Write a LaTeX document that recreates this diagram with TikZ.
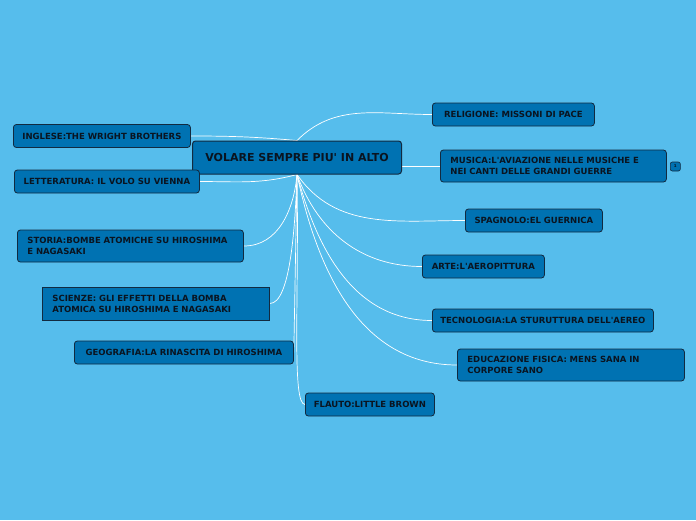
\documentclass[tikz,border=0pt]{standalone}
\usepackage{fontspec}
\setmainfont{DejaVu Sans}
\usetikzlibrary{backgrounds}
\definecolor{skyBlue}{RGB}{86, 189, 236}
\definecolor{topicBlue}{RGB}{0, 114, 178}
\definecolor{topicEdge}{RGB}{18, 42, 64}
\definecolor{topicText}{RGB}{10, 20, 32}
\newcommand{\apo}{\textquotesingle}

\tikzset{
  topic/.style={draw=topicEdge, fill=topicBlue, text=topicText, rounded corners=3pt,
    line width=0.8pt, font=\bfseries\fontsize{8.5}{11}\selectfont,
    minimum height=23pt, inner xsep=6pt, inner ysep=3pt, anchor=west},
  central/.style={topic, font=\bfseries\fontsize{11}{13}\selectfont,
    minimum height=33pt, line width=1pt},
  twoline/.style={topic, align=left, inner xsep=10pt, minimum height=32pt},
  link/.style={draw=white, line width=0.7pt},
}

\begin{document}
\begin{tikzpicture}[x=1pt, y=-1pt]
        \useasboundingbox (0,0) rectangle (696,520);
        % central topic
        \node[central, minimum width=209pt] (root) at (192,157.5) {VOLARE SEMPRE PIU\apo{} IN ALTO};
        % left side
        \node[topic, minimum width=177pt] (inglese) at (13,136) {INGLESE:THE WRIGHT BROTHERS};
        \node[topic, minimum width=185pt] (letteratura) at (14,181.5) {LETTERATURA: IL VOLO SU VIENNA};
        \node[twoline, text width=206pt] (storia) at (17,246) {STORIA:BOMBE ATOMICHE SU HIROSHIMA\\E NAGASAKI};
        \node[twoline, sharp corners, text width=207pt, minimum height=33pt] (scienze) at (42,303.5) {SCIENZE: GLI EFFETTI DELLA BOMBA\\ATOMICA SU HIROSHIMA E NAGASAKI};
        \node[topic, minimum width=219pt] (geografia) at (74,352.5) {GEOGRAFIA:LA RINASCITA DI HIROSHIMA};
        \node[topic, minimum width=129pt] (flauto) at (305,404.5) {FLAUTO:LITTLE BROWN};
        % right side
        \node[topic, minimum width=162pt] (religione) at (432,114.5) {RELIGIONE: MISSONI DI PACE};
        \node[twoline, text width=206pt] (musica) at (440,166) {MUSICA:L\apo AVIAZIONE NELLE MUSICHE E\\NEI CANTI DELLE GRANDI GUERRE};
        \node[topic, minimum width=10pt, minimum height=9pt, inner sep=0pt, rounded corners=2pt,
          line width=0.6pt, font=\bfseries\fontsize{4}{5}\selectfont] (badge) at (670,166.5) {1};
        \node[topic, minimum width=137pt] (spagnolo) at (465,220.5) {SPAGNOLO:EL GUERNICA};
        \node[topic, minimum width=122pt] (arte) at (422,266.5) {ARTE:L\apo AEROPITTURA};
        \node[topic, minimum width=221pt] (tecnologia) at (432,320.5) {TECNOLOGIA:LA STURUTTURA DELL\apo AEREO};
        \node[twoline, text width=207pt] (educazione) at (457,365) {EDUCAZIONE FISICA: MENS SANA IN\\CORPORE SANO};
        \begin{pgfonlayer}{background}
          \fill[skyBlue] (0,0) rectangle (696,520);
          % connectors
          \draw[link] (root.north) to[out=175, in=0] (inglese.east);
          \draw[link] (root.south) to[out=195, in=0] (letteratura.east);
          \draw[link] (root.south) to[out=-95, in=0] (storia.east);
          \draw[link] (root.south) to[out=-92, in=0, in looseness=0.4] (scienze.east);
          \draw[link] (root.south) -- (geografia.east);
          \draw[link] (root.south) to[out=-89, in=180, out looseness=1.4, in looseness=0.15] (flauto.west);
          \draw[link] (root.north) to[out=45, in=180] (religione.west);
          \draw[link] (root.east |- musica.west) -- (musica.west);
          \draw[link] (root.south) to[out=-55, in=180] (spagnolo.west);
          \draw[link] (root.south) to[out=-70, in=180] (arte.west);
          \draw[link] (root.south) to[out=-75, in=180] (tecnologia.west);
          \draw[link] (root.south) to[out=-78, in=180] (educazione.west);
        \end{pgfonlayer}
      \end{tikzpicture}
\end{document}
